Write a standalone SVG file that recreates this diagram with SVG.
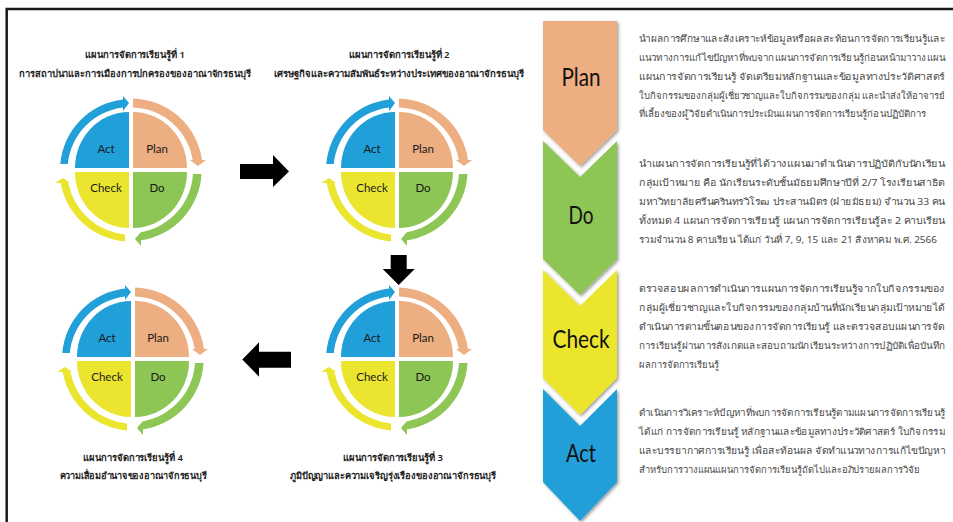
<svg xmlns="http://www.w3.org/2000/svg" width="953" height="522" viewBox="0 0 953 522">
<style>
text{font-family:"Noto Sans","Liberation Sans","DejaVu Sans",sans-serif}
.t{font-size:9.500px;font-weight:600;fill:#222;text-anchor:middle}
.q{font-family:Lato,"Noto Sans",sans-serif;font-size:11.500px;fill:#1a1a1a;text-anchor:middle}
.b{font-size:9.500px;fill:#4a4a4a}
.c{font-family:Lato,"Noto Sans",sans-serif;font-size:25px;fill:#111;text-anchor:middle}
.pl{fill:#edae82}.do{fill:#8dc654}.ch{fill:#ebe52f}.ac{fill:#209fd8}
</style>
<defs>
<filter id="sh" x="-20%" y="-20%" width="150%" height="150%"><feDropShadow dx="1.500" dy="1.500" stdDeviation="1.500" flood-color="#000" flood-opacity=".4"/></filter>
<g id="cycle">
<path class="pl" d="M2,-58A54,56 0 0 1 56,-2H2Z"/>
<path class="do" d="M2,2H56A54,56 0 0 1 2,58Z"/>
<path class="ch" d="M-2,2H-56A54,56 0 0 0 -2,58Z"/>
<path class="ac" d="M-2,-58A54,56 0 0 0 -56,-2H-2Z"/>
<path class="ac" d="M-70.700,-6A71,71 0 0 1 -8,-70.500V-74L-2,-67 -8,-59V-62.500A63,63 0 0 0 -63.200,-6Z"/>
<path class="pl" d="M2,-71.500A71.500,71.500 0 0 1 71,-10H75L67,-4 59,-10H61.700A62.500,62.500 0 0 0 2,-62.500Z"/>
<path class="do" d="M70.500,4A71,71 0 0 1 10,70.300V76L4,69 10,62V62.200A63,63 0 0 0 62,4Z"/>
<path class="ch" d="M-6,71.500A71.500,71.500 0 0 1 -70.300,13H-76L-68,8 -61,13H-62.700A64,65 0 0 0 -6,64.500Z"/>
</g>
</defs>
<g id="frame"><path d="M6.700,522V9H953" fill="none" stroke="#1a1a1a" stroke-width="2.500"/></g>
<g id="connectors">
<path d="M240,164H273V155L289,171.500 273,187V179H240Z" fill="#000"/>
<path d="M390.700,255H406.700V269H414.700L398.700,285 382.700,269H390.700Z" fill="#000"/>
<path d="M291,351.700H259V342.300L242.300,359.500 259,376.700V367.700H291Z" fill="#000"/>
</g>
<g id="plan-1"><use href="#cycle" x="131" y="170"/><text class="t" x="135" y="58" textLength="100" lengthAdjust="spacingAndGlyphs">แผนการจัดการเรียนรู้ที่ 1</text><text class="t" x="135" y="77" textLength="232" lengthAdjust="spacingAndGlyphs">การสถาปนาและการเมืองการปกครองของอาณาจักรธนบุรี</text><text class="q" x="106" y="153">Act</text><text class="q" x="157" y="153">Plan</text><text class="q" x="106" y="192">Check</text><text class="q" x="157" y="192">Do</text></g>
<g id="plan-2"><use href="#cycle" x="397" y="170"/><text class="t" x="399" y="58" textLength="101" lengthAdjust="spacingAndGlyphs">แผนการจัดการเรียนรู้ที่ 2</text><text class="t" x="399" y="77" textLength="251" lengthAdjust="spacingAndGlyphs">เศรษฐกิจและความสัมพันธ์ระหว่างประเทศของอาณาจักรธนบุรี</text><text class="q" x="372" y="153">Act</text><text class="q" x="423" y="153">Plan</text><text class="q" x="372" y="192">Check</text><text class="q" x="423" y="192">Do</text></g>
<g id="plan-3"><use href="#cycle" x="397" y="359"/><text class="t" x="393" y="461" textLength="100" lengthAdjust="spacingAndGlyphs">แผนการจัดการเรียนรู้ที่ 3</text><text class="t" x="393" y="479" textLength="206" lengthAdjust="spacingAndGlyphs">ภูมิปัญญาและความเจริญรุ่งเรืองของอาณาจักรธนบุรี</text><text class="q" x="372" y="342">Act</text><text class="q" x="423" y="342">Plan</text><text class="q" x="372" y="381">Check</text><text class="q" x="423" y="381">Do</text></g>
<g id="plan-4"><use href="#cycle" x="133" y="359"/><text class="t" x="133" y="461" textLength="100" lengthAdjust="spacingAndGlyphs">แผนการจัดการเรียนรู้ที่ 4</text><text class="t" x="133" y="479" textLength="147" lengthAdjust="spacingAndGlyphs">ความเสื่อมอำนาจของอาณาจักรธนบุรี</text><text class="q" x="107" y="342">Act</text><text class="q" x="158" y="342">Plan</text><text class="q" x="107" y="381">Check</text><text class="q" x="158" y="381">Do</text></g>
<g id="step-act"><path class="ac" filter="url(#sh)" d="M543,389L580,426 617,389V482L580,521 543,482Z"/><text class="c" x="581" y="462" textLength="30" lengthAdjust="spacingAndGlyphs">Act</text></g>
<g id="step-check"><path class="ch" filter="url(#sh)" d="M543,270L580,306 617,270V378L580,415 543,378Z"/><text class="c" x="581" y="348" textLength="57" lengthAdjust="spacingAndGlyphs">Check</text></g>
<g id="step-do"><path class="do" filter="url(#sh)" d="M543,141L580,177 617,141V259L580,295 543,259Z"/><text class="c" x="581" y="224" textLength="25" lengthAdjust="spacingAndGlyphs">Do</text></g>
<g id="step-plan"><path class="pl" filter="url(#sh)" d="M543,21H617V130L580,166 543,130Z"/><text class="c" x="581" y="86" textLength="39" lengthAdjust="spacingAndGlyphs">Plan</text></g>
<g id="text-plan"><text class="b" x="639" y="42" textLength="306" lengthAdjust="spacingAndGlyphs">นำผลการศึกษาและสังเคราะห์ข้อมูลหรือผลสะท้อนการจัดการเรียนรู้และ</text><text class="b" x="639" y="61" textLength="306" lengthAdjust="spacingAndGlyphs">แนวทางการแก้ไขปัญหาที่พบจากแผนการจัดการเรียนรู้ก่อนหน้ามาวางแผน</text><text class="b" x="639" y="80" textLength="306" lengthAdjust="spacingAndGlyphs">แผนการจัดการเรียนรู้ จัดเตรียมหลักฐานและข้อมูลทางประวัติศาสตร์</text><text class="b" x="639" y="99" textLength="306" lengthAdjust="spacingAndGlyphs">ใบกิจกรรมของกลุ่มผู้เชี่ยวชาญและใบกิจกรรมของกลุ่ม และนำส่งให้อาจารย์</text><text class="b" x="639" y="117" textLength="287" lengthAdjust="spacingAndGlyphs">ที่เลี้ยงของผู้วิจัยดำเนินการประเมินแผนการจัดการเรียนรู้ก่อนปฏิบัติการ</text></g>
<g id="text-do"><text class="b" x="639" y="167" textLength="306" lengthAdjust="spacingAndGlyphs">นำแผนการจัดการเรียนรู้ที่ได้วางแผนมาดำเนินการปฏิบัติกับนักเรียน</text><text class="b" x="639" y="186" textLength="306" lengthAdjust="spacingAndGlyphs">กลุ่มเป้าหมาย คือ นักเรียนระดับชั้นมัธยมศึกษาปีที่ 2/7 โรงเรียนสาธิต</text><text class="b" x="639" y="205" textLength="306" lengthAdjust="spacingAndGlyphs">มหาวิทยาลัยศรีนครินทรวิโรฒ ประสานมิตร (ฝ่ายมัธยม) จำนวน 33 คน</text><text class="b" x="639" y="224" textLength="306" lengthAdjust="spacingAndGlyphs">ทั้งหมด 4 แผนการจัดการเรียนรู้ แผนการจัดการเรียนรู้ละ 2 คาบเรียน</text><text class="b" x="639" y="243" textLength="298" lengthAdjust="spacingAndGlyphs">รวมจำนวน 8 คาบเรียน ได้แก่ วันที่ 7, 9, 15 และ 21 สิงหาคม พ.ศ. 2566</text></g>
<g id="text-check"><text class="b" x="639" y="292" textLength="306" lengthAdjust="spacingAndGlyphs">ตรวจสอบผลการดำเนินการแผนการจัดการเรียนรู้จากใบกิจกรรมของ</text><text class="b" x="639" y="311" textLength="306" lengthAdjust="spacingAndGlyphs">กลุ่มผู้เชี่ยวชาญและใบกิจกรรมของกลุ่มบ้านที่นักเรียนกลุ่มเป้าหมายได้</text><text class="b" x="639" y="330" textLength="306" lengthAdjust="spacingAndGlyphs">ดำเนินการตามขั้นตอนของการจัดการเรียนรู้ และตรวจสอบแผนการจัด</text><text class="b" x="639" y="349" textLength="306" lengthAdjust="spacingAndGlyphs">การเรียนรู้ผ่านการสังเกตและสอบถามนักเรียนระหว่างการปฏิบัติเพื่อบันทึก</text><text class="b" x="639" y="368" textLength="80" lengthAdjust="spacingAndGlyphs">ผลการจัดการเรียนรู้</text></g>
<g id="text-act"><text class="b" x="639" y="416" textLength="306" lengthAdjust="spacingAndGlyphs">ดำเนินการวิเคราะห์ปัญหาที่พบการจัดการเรียนรู้ตามแผนการจัดการเรียนรู้</text><text class="b" x="639" y="435" textLength="306" lengthAdjust="spacingAndGlyphs">ได้แก่ การจัดการเรียนรู้ หลักฐานและข้อมูลทางประวัติศาสตร์ ใบกิจกรรม</text><text class="b" x="639" y="454" textLength="306" lengthAdjust="spacingAndGlyphs">และบรรยากาศการเรียนรู้ เพื่อสะท้อนผล จัดทำแนวทางการแก้ไขปัญหา</text><text class="b" x="639" y="473" textLength="281" lengthAdjust="spacingAndGlyphs">สำหรับการวางแผนแผนการจัดการเรียนรู้ถัดไปและอภิปรายผลการวิจัย</text></g>
</svg>
